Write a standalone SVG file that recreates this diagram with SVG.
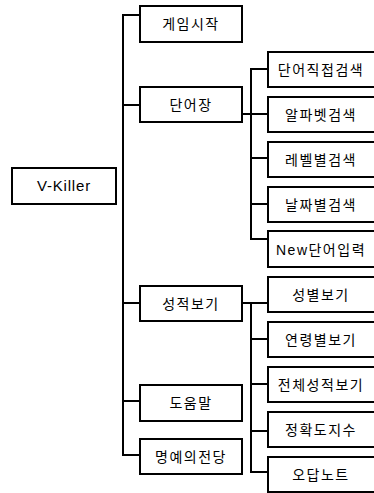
<svg xmlns="http://www.w3.org/2000/svg" width="374" height="493" viewBox="0 0 374 493">
<style>
.box{fill:#fff;stroke:#000;stroke-width:2}
.ln{fill:none;stroke:#000;stroke-width:2}
text{font-family:"Liberation Sans","Noto Sans CJK KR",sans-serif;font-size:14px;letter-spacing:1.5px;text-anchor:middle;fill:#000}
.lat{font-size:15px;letter-spacing:0.8px}
</style>
<rect width="374" height="493" fill="#fff"/>
<g id="connectors">
<path class="ln" d="M140,15H123V455H140M123,105H140M123,303H140M123,401H140"/>
<path class="ln" d="M242,114H268M268,69H251V239H268M251,158H268M251,204H268"/>
<path class="ln" d="M242,303H268M251,303V472H268M251,339H268M251,384H268M251,431H268"/>
</g>
<g id="n-root"><rect class="box" x="12" y="168" width="104" height="36"/><text class="lat" x="64" y="191">V-Killer</text></g>
<g id="n-game"><rect class="box" x="140" y="6" width="102" height="36"/><text x="191" y="29">게임시작</text></g>
<g id="n-word"><rect class="box" x="140" y="87" width="102" height="35"/><text x="191" y="110">단어장</text></g>
<g id="n-score"><rect class="box" x="140" y="286" width="102" height="35"/><text x="191" y="309">성적보기</text></g>
<g id="n-help"><rect class="box" x="140" y="385" width="102" height="36"/><text x="191" y="408">도움말</text></g>
<g id="n-fame"><rect class="box" x="140" y="439" width="102" height="35"/><text x="191" y="462">명예의전당</text></g>
<g id="n-w1"><rect class="box" x="268" y="52" width="108" height="35"/><text x="321" y="75">단어직접검색</text></g>
<g id="n-w2"><rect class="box" x="268" y="97" width="108" height="35"/><text x="321" y="120">알파벳검색</text></g>
<g id="n-w3"><rect class="box" x="268" y="142" width="108" height="35"/><text x="321" y="165">레벨별검색</text></g>
<g id="n-w4"><rect class="box" x="268" y="187" width="108" height="35"/><text x="321" y="210">날짜별검색</text></g>
<g id="n-w5"><rect class="box" x="268" y="231" width="108" height="36"/><text x="321" y="255">New단어입력</text></g>
<g id="n-s1"><rect class="box" x="268" y="277" width="108" height="35"/><text x="321" y="300">성별보기</text></g>
<g id="n-s2"><rect class="box" x="268" y="322" width="108" height="35"/><text x="321" y="345">연령별보기</text></g>
<g id="n-s3"><rect class="box" x="268" y="367" width="108" height="35"/><text x="321" y="390">전체성적보기</text></g>
<g id="n-s4"><rect class="box" x="268" y="412" width="108" height="35"/><text x="321" y="435">정확도지수</text></g>
<g id="n-s5"><rect class="box" x="268" y="457" width="108" height="35"/><text x="321" y="480">오답노트</text></g>
</svg>
